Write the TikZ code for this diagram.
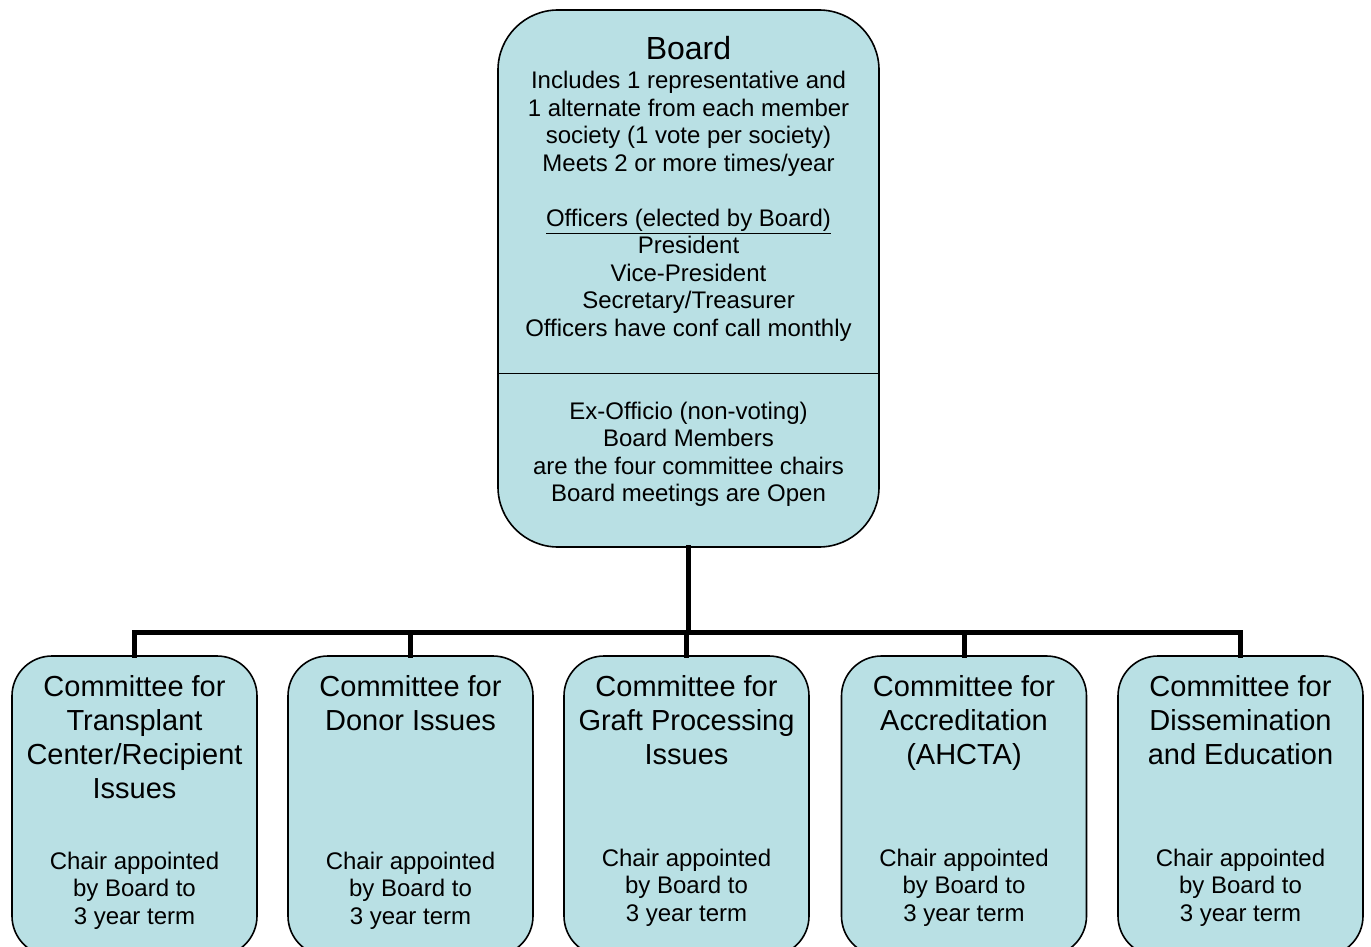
\documentclass[tikz,border=0pt]{standalone}
\usepackage{fontspec}
\setmainfont{Liberation Sans}
\definecolor{boxfill}{RGB}{185,224,228}
\tikzset{
  boardbox/.style={draw=black, line width=1.6pt, fill=boxfill, rounded corners=60pt,
    minimum width=381pt, minimum height=537pt, inner sep=0pt},
  combox/.style={draw=black, line width=1.6pt, fill=boxfill, rounded corners=40pt,
    minimum width=245pt, minimum height=300pt, inner sep=0pt},
  bodytext/.style={inner sep=0pt, align=center, anchor=north, font=\fontsize{24}{27.5}\selectfont},
  titletext/.style={inner sep=0pt, align=center, anchor=north, font=\fontsize{29}{34}\selectfont},
  conn/.style={line width=5pt, line cap=rect, line join=miter}
}
\begin{document}
\begin{tikzpicture}[x=1pt,y=-1pt]
\useasboundingbox (0,0) rectangle (1371,947);
\fill[white] (0,0) rectangle (1371,947);
% Board
\node[boardbox] (board) at (688.5,278.5) {};
\coordinate (divL) at (498,373);
\coordinate (divR) at (879,373);
\draw[line width=1pt] (divL) -- (divR);
\node[bodytext] (boardtext) at (688.5,36) {{\fontsize{32}{27.5}\selectfont Board}\\[2pt]
Includes 1 representative and\\
1 alternate from each member\\
society (1 vote per society)\\
Meets 2 or more times/year\\[27.5pt]
\underline{Officers (elected by Board)}\\
President\\
Vice-President\\
Secretary/Treasurer\\
Officers have conf call monthly};
\node[bodytext] (exofficio) at (688.5,401.5) {Ex-Officio (non-voting)\\
Board Members\\
are the four committee chairs\\
Board meetings are Open};
% Committees
\node[combox] (c1) at (134.5,806) {};
\node[combox] (c2) at (410.5,806) {};
\node[combox] (c3) at (686.5,806) {};
\node[combox] (c4) at (964,806) {};
\node[combox] (c5) at (1240.5,806) {};
\node[titletext] (t1) at (134.5,675.5) {Committee for\\Transplant\\Center/Recipient\\Issues};
\node[titletext] (t2) at (410.5,675.5) {Committee for\\Donor Issues};
\node[titletext] (t3) at (686.5,675.5) {Committee for\\Graft Processing\\Issues};
\node[titletext] (t4) at (964,675.5) {Committee for\\Accreditation\\(AHCTA)};
\node[titletext] (t5) at (1240.5,675.5) {Committee for\\Dissemination\\and Education};
\node[bodytext] (ch1) at (134.5,851.5) {Chair appointed\\by Board to\\3 year term};
\node[bodytext] (ch2) at (410.5,851.5) {Chair appointed\\by Board to\\3 year term};
\node[bodytext] (ch3) at (686.5,848.5) {Chair appointed\\by Board to\\3 year term};
\node[bodytext] (ch4) at (964,848.5) {Chair appointed\\by Board to\\3 year term};
\node[bodytext] (ch5) at (1240.5,848.5) {Chair appointed\\by Board to\\3 year term};
% Connectors
\coordinate (bus) at (688,632);
\draw[conn] (board.south -| bus) -- (bus);
\draw[conn] (c1.north) -- (c1.north |- bus) -- (c5.north |- bus) -- (c5.north);
\draw[conn] (c2.north) -- (c2.north |- bus);
\draw[conn] (c3.north) -- (c3.north |- bus);
\draw[conn] (c4.north) -- (c4.north |- bus);
\end{tikzpicture}
\end{document}
